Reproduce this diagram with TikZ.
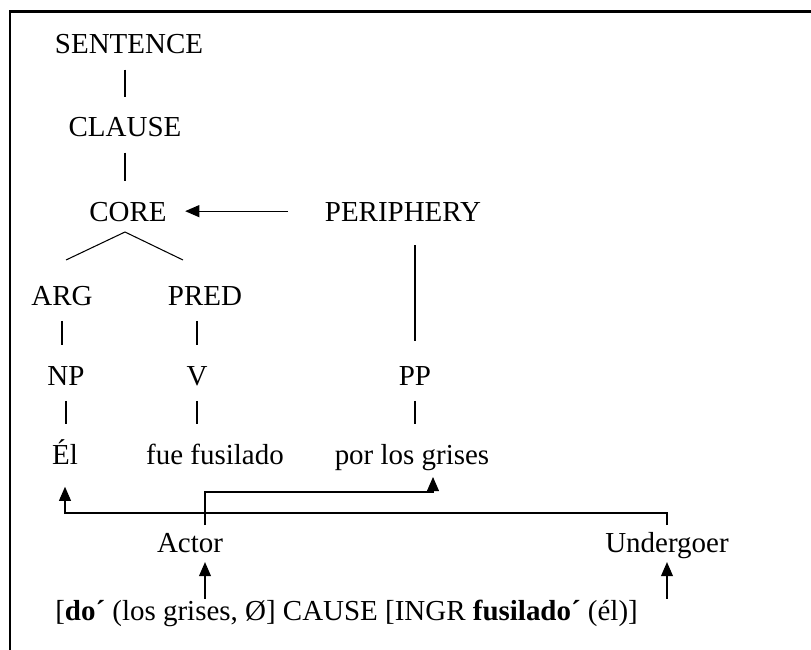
\documentclass[tikz,border=0pt]{standalone}
\usepackage{fontspec}
\setmainfont{Liberation Serif}
\usetikzlibrary{arrows.meta}
\tikzset{
    word/.style={
        inner sep=0pt,
        anchor=base,
        text height=14pt,
        text depth=0pt,
        font=\fontsize{20.6}{24}\selectfont
    }
}
\tikzset{
    stem/.style={line width=0.75pt}
}
\tikzset{
    bar/.style={stem, shorten <=11pt, shorten >=14pt}
}
\tikzset{
    pointer/.style={stem, -{Triangle[length=10pt,width=8.5pt]}}
}
\newcommand{\drawWord}[3]{\node[word] (#1) at #2 {#3}}
\begin{document}
\begin{tikzpicture}[x=0.025cm, y=-0.025cm]

    \useasboundingbox (0,0) rectangle (811,650);
    \draw[line width=1.8pt] (10,650) -- (10,11.5) -- (811,11.5);

    \drawWord{sentence}{(129,54)}{SENTENCE};
    \drawWord{clause}{(125,137)}{CLAUSE};

    \drawWord{core}{(128,221)}{CORE};
    \drawWord{periphery}{(403,221)}{PERIPHERY};

    \drawWord{arg}{(62,305)}{ARG};
    \drawWord{pred}{(205,305)}{PRED};

    \drawWord{np}{(66,385)}{NP};
    \drawWord{v}{(197,385)}{V};
    \drawWord{pp}{(415,385)}{PP};

    \drawWord{el}{(65,464)}{Él};
    \drawWord{fue}{(215,464)}{fue fusilado};
    \drawWord{por}{(412,464)}{por los grises};

    \drawWord{actor}{(190,552)}{Actor};
    \drawWord{undergoer}{(667,552)}{Undergoer};

    \node[word, anchor=base west] (lsr) at (55,620)
        {[\textbf{do´} (los grises, Ø] CAUSE [INGR \textbf{fusilado´} (él)]};

    \draw[bar] (clause.north |- sentence.south) -- (clause.north);
    \draw[bar] (clause.south) -- (clause.south |- core.north);

    \coordinate (fork) at (125,232);
    \coordinate (argtop) at (66,260);
    \coordinate (predtop) at (183,260);
    \draw[stem] (argtop) -- (fork) -- (predtop);

    \draw[pointer, shorten <=26pt, shorten >=13pt] (periphery) -- (core);
    \draw[bar, shorten <=17pt, shorten >=17pt] (pp.north |- periphery.south) -- (pp.north);

    \draw[bar] (arg.south) -- (arg.south |- np.north);
    \draw[bar] (v.north |- pred.south) -- (v.north);

    \draw[bar] (np.south) -- (np.south |- el.north);
    \draw[bar] (v.south) -- (v.south |- fue.north);
    \draw[bar] (pp.south) -- (pp.south |- por.north);

    % role links
    \coordinate (bus) at (0,513);
    \coordinate (agent) at (205,492);
    \coordinate (grises) at (433,477);
    \draw[pointer, shorten <=5pt, shorten >=16pt] (undergoer.north) |- (bus -| el.south) -- (el.south);
    \draw[pointer, shorten <=5pt] (actor.north -| agent) |- (grises |- agent) -- (grises);

    \draw[pointer, shorten <=1pt, shorten >=7pt] (lsr.north -| agent) -- (actor.south -| agent);
    \draw[pointer, shorten <=1pt, shorten >=7pt] (lsr.north -| undergoer) -- (undergoer.south);

\end{tikzpicture}
\end{document}
